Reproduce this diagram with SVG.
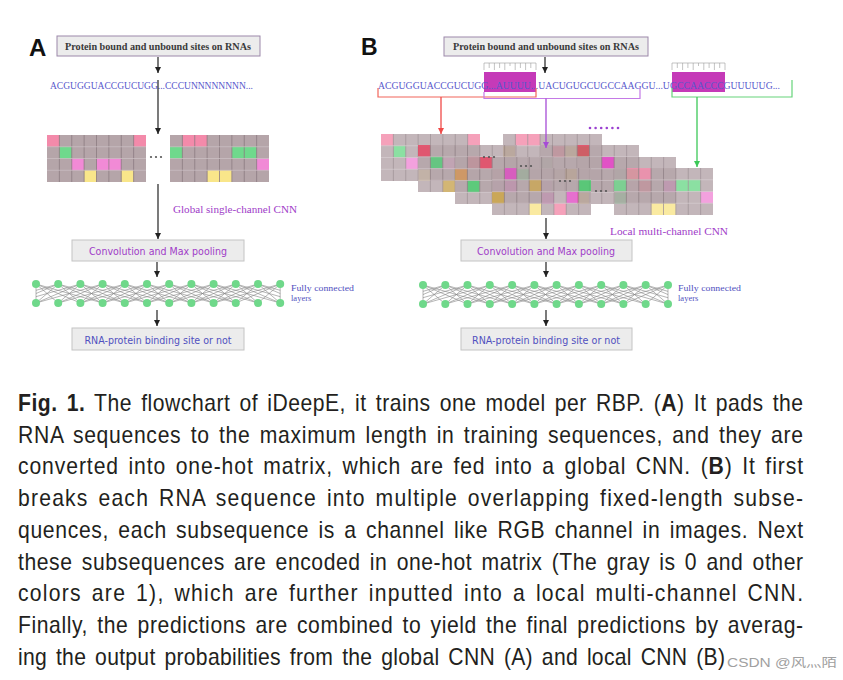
<svg xmlns="http://www.w3.org/2000/svg" xmlns:xlink="http://www.w3.org/1999/xlink" width="843" height="680" viewBox="0 0 843 680">
<style>
.bx{fill:#ececec;stroke:#c4c4c4;stroke-width:1}
.bxp{fill:#ececec;stroke:#9c88aa;stroke-width:1}
.serif{font-family:"Liberation Serif","DejaVu Serif",serif}
.sans{font-family:"DejaVu Sans","Liberation Sans",sans-serif}
.seq{fill:#5858cc;font-size:10px}
.purp{fill:#a03cc8}
.blu{fill:#5050c0}
.base{fill:#b5a5a9}
.vl{stroke:#8c7b81;stroke-width:0.8;fill:none}
.hl{stroke:#cdc2c5;stroke-width:0.7;fill:none}
.pk{fill:#f38aaa}.gr{fill:#6fd98c}.mg{fill:#f18ad6}.ye{fill:#f9e68a}
.rd{fill:#e8405e}.mb{fill:#e04cc4}.ol{fill:#c9a452}.gb{fill:#44cf6c}
.node{fill:#6fd88a}
.fc{stroke:#707070;stroke-width:0.6;fill:none;opacity:0.85}
.cap{font-family:"Liberation Sans",Arial,sans-serif;font-size:23px;fill:#231f20;word-spacing:3px}
.cn{stroke:#222;stroke-width:1.2;fill:none}
.dot{fill:#555}
.tick{stroke:#9a9a9a;stroke-width:0.6;fill:none}
.bg{opacity:0.8}
</style>
<defs>
<marker id="ak" viewBox="0 0 10 10" refX="10" refY="5" markerWidth="6" markerHeight="7" markerUnits="userSpaceOnUse" orient="auto"><path d="M0 0L10 5L0 10z" fill="#222"/></marker>
<marker id="ar" viewBox="0 0 10 10" refX="10" refY="5" markerWidth="6" markerHeight="7" markerUnits="userSpaceOnUse" orient="auto"><path d="M0 0L10 5L0 10z" fill="#f04a48"/></marker>
<marker id="ap" viewBox="0 0 10 10" refX="10" refY="5" markerWidth="6" markerHeight="7" markerUnits="userSpaceOnUse" orient="auto"><path d="M0 0L10 5L0 10z" fill="#a64cd6"/></marker>
<marker id="ag" viewBox="0 0 10 10" refX="10" refY="5" markerWidth="6" markerHeight="7" markerUnits="userSpaceOnUse" orient="auto"><path d="M0 0L10 5L0 10z" fill="#3cc858"/></marker>
<g id="gl">
<path class="vl" d="M12.375 0V47M24.75 0V47M37.125 0V47M49.5 0V47M61.875 0V47M74.25 0V47M86.625 0V47"/>
<path class="hl" d="M0 11.75H99M0 23.5H99M0 35.25H99"/>
</g>
<path id="fan" d="M0 0L22.2 19M0 0L-22.2 19M0 0L44.4 19M0 0L-44.4 19M0 0L66.6 19M0 0L-66.6 19"/>
<clipPath id="cA"><rect x="36" y="280" width="244.2" height="28"/></clipPath>
<clipPath id="cB"><rect x="423" y="280" width="245" height="28"/></clipPath>
</defs>
<rect width="843" height="680" fill="#fff"/>

<!-- Panel labels -->
<text x="29" y="56" font-family="Liberation Sans,Arial,sans-serif" font-weight="bold" font-size="24" fill="#111">A</text>
<text x="361" y="55" font-family="Liberation Sans,Arial,sans-serif" font-weight="bold" font-size="23" fill="#111">B</text>

<!-- ===== Panel A ===== -->
<g id="a-input">
<rect class="bxp" x="57" y="36" width="203" height="20"/>
<text class="serif" x="158" y="50" text-anchor="middle" font-size="10" font-weight="bold" fill="#3a3a3a" textLength="186" lengthAdjust="spacingAndGlyphs">Protein bound and unbound sites on RNAs</text>
</g>
<g id="a-seq">
<text class="serif seq" x="50" y="89" textLength="203" lengthAdjust="spacingAndGlyphs">ACGUGGUACCGUCUGG...CCCUNNNNNNNN...</text>
</g>
<g id="a-grid1" transform="translate(47,135)">
<rect class="base" width="99" height="47"/>
<rect class="pk" x="0" y="0" width="12.375" height="11.75"/>
<rect class="pk" x="86.625" y="0" width="12.375" height="11.75"/>
<rect class="gr" x="12.375" y="11.75" width="12.375" height="11.75"/>
<rect class="mg" x="24.75" y="23.5" width="12.375" height="11.75"/>
<rect class="mg" x="49.5" y="23.5" width="24.75" height="11.75"/>
<rect class="ye" x="37.125" y="35.25" width="12.375" height="11.75"/>
<rect class="ye" x="74.25" y="35.25" width="12.375" height="11.75"/>
<use href="#gl"/>
</g>
<g id="a-dots">
<circle class="dot" cx="151" cy="157" r="1.1"/><circle class="dot" cx="156" cy="157" r="1.1"/><circle class="dot" cx="161" cy="157" r="1.1"/>
</g>
<g id="a-grid2" transform="translate(170,135)">
<rect class="base" width="99" height="47"/>
<rect class="pk" x="12.375" y="0" width="24.75" height="11.75"/>
<rect class="gr" x="0" y="11.75" width="12.375" height="11.75"/>
<rect class="gr" x="61.875" y="11.75" width="24.75" height="11.75"/>
<rect class="mg" x="86.625" y="23.5" width="12.375" height="11.75"/>
<rect class="ye" x="37.125" y="35.25" width="24.75" height="11.75"/>
<use href="#gl"/>
</g>
<g id="a-label">
<text class="serif purp" x="173" y="213" font-size="10" textLength="124" lengthAdjust="spacingAndGlyphs">Global single-channel CNN</text>
</g>
<g id="a-conv">
<rect class="bx" x="72" y="240" width="172" height="21"/>
<text class="sans purp" x="158" y="254.5" text-anchor="middle" font-size="10.5" textLength="138" lengthAdjust="spacingAndGlyphs">Convolution and Max pooling</text>
</g>
<g id="a-fc">
<g class="fc" clip-path="url(#cA)">
<use href="#fan" x="36" y="284"/><use href="#fan" x="58.2" y="284"/><use href="#fan" x="80.4" y="284"/><use href="#fan" x="102.6" y="284"/><use href="#fan" x="124.8" y="284"/><use href="#fan" x="147" y="284"/><use href="#fan" x="169.2" y="284"/><use href="#fan" x="191.4" y="284"/><use href="#fan" x="213.6" y="284"/><use href="#fan" x="235.8" y="284"/><use href="#fan" x="258" y="284"/><use href="#fan" x="280.2" y="284"/>
</g>
<path class="fc" d="M36 284V303M280.2 284V303"/>
<g>
<circle class="node" cx="36" cy="284" r="4"/><circle class="node" cx="58.2" cy="284" r="4"/><circle class="node" cx="80.4" cy="284" r="4"/><circle class="node" cx="102.6" cy="284" r="4"/><circle class="node" cx="124.8" cy="284" r="4"/><circle class="node" cx="147" cy="284" r="4"/><circle class="node" cx="169.2" cy="284" r="4"/><circle class="node" cx="191.4" cy="284" r="4"/><circle class="node" cx="213.6" cy="284" r="4"/><circle class="node" cx="235.8" cy="284" r="4"/><circle class="node" cx="258" cy="284" r="4"/><circle class="node" cx="280.2" cy="284" r="4"/>
<circle class="node" cx="36" cy="303" r="4"/><circle class="node" cx="58.2" cy="303" r="4"/><circle class="node" cx="80.4" cy="303" r="4"/><circle class="node" cx="102.6" cy="303" r="4"/><circle class="node" cx="124.8" cy="303" r="4"/><circle class="node" cx="147" cy="303" r="4"/><circle class="node" cx="169.2" cy="303" r="4"/><circle class="node" cx="191.4" cy="303" r="4"/><circle class="node" cx="213.6" cy="303" r="4"/><circle class="node" cx="235.8" cy="303" r="4"/><circle class="node" cx="258" cy="303" r="4"/><circle class="node" cx="280.2" cy="303" r="4"/>
</g>
<text class="serif blu" x="291" y="291" font-size="8.5" textLength="63" lengthAdjust="spacingAndGlyphs">Fully connected</text>
<text class="serif blu" x="291" y="301" font-size="8.5">layers</text>
</g>
<g id="a-output">
<rect class="bx" x="72" y="328" width="172" height="22"/>
<text class="sans blu" x="158" y="343.5" text-anchor="middle" font-size="10.5" textLength="147" lengthAdjust="spacingAndGlyphs">RNA-protein binding site or not</text>
</g>

<!-- ===== Panel B ===== -->
<g id="b-input">
<rect class="bxp" x="444" y="37" width="204" height="19"/>
<text class="serif" x="546" y="50" text-anchor="middle" font-size="10" font-weight="bold" fill="#3a3a3a" textLength="186" lengthAdjust="spacingAndGlyphs">Protein bound and unbound sites on RNAs</text>
</g>
<g id="b-seq">
<rect x="484" y="72" width="52" height="20" fill="#c53ab8"/>
<rect x="672" y="72" width="53" height="20" fill="#c53ab8"/>
<path class="tick" d="M484 63H536M484 63V70M489.2 63V68M494.4 63V70M499.6 63V68M504.8 63V70M510 63V66M515.2 63V70M520.4 63V68M525.6 63V70M530.8 63V68M536 63V70"/>
<path class="tick" d="M672 63H725M672 63V70M677.3 63V68M682.6 63V70M687.9 63V68M693.2 63V70M698.5 63V66M703.8 63V70M709.1 63V68M714.4 63V70M719.7 63V68M725 63V70"/>
<text class="serif seq" x="378" y="89" textLength="402" lengthAdjust="spacingAndGlyphs">ACGUGGUACCGUCUGG...AUUUU...UACUGUGCUGCCAAGGU...UGCCAACCCGUUUUUG...</text>
</g>
<g id="b-grids">
<g id="b-l1" class="bg" transform="translate(381,134)">
<rect class="base" width="99" height="47"/>
<rect class="pk" x="0" y="0" width="12.375" height="11.75"/>
<rect class="pk" x="86.625" y="0" width="12.375" height="11.75"/>
<rect class="gr" x="12.375" y="11.75" width="12.375" height="11.75"/>
<rect class="mg" x="24.75" y="23.5" width="12.375" height="11.75"/>
<rect class="mg" x="49.5" y="23.5" width="24.75" height="11.75"/>
<rect class="ye" x="37.125" y="35.25" width="12.375" height="11.75"/>
<rect class="ye" x="74.25" y="35.25" width="12.375" height="11.75"/>
<use href="#gl"/>
</g>
<g id="b-r1" class="bg" transform="translate(503,134)">
<rect class="base" width="99" height="47"/>
<rect class="pk" x="12.375" y="0" width="24.75" height="11.75"/>
<rect class="ol" x="0" y="11.75" width="12.375" height="11.75"/>
<rect class="rd" x="49.5" y="11.75" width="12.375" height="11.75"/>
<rect class="ol" x="61.875" y="11.75" width="12.375" height="11.75"/>
<rect class="gb" x="74.25" y="11.75" width="12.375" height="11.75"/>
<rect class="gb" x="37.125" y="23.5" width="12.375" height="11.75"/>
<rect class="ol" x="49.5" y="35.25" width="12.375" height="11.75"/>
<use href="#gl"/>
</g>
<g id="b-l2" class="bg" transform="translate(418,145)">
<rect class="base" width="99" height="47"/>
<rect class="rd" x="0" y="0" width="12.375" height="11.75"/>
<rect class="gb" x="12.375" y="11.75" width="12.375" height="11.75"/>
<rect class="rd" x="49.5" y="11.75" width="12.375" height="11.75"/>
<rect class="mb" x="37.125" y="23.5" width="12.375" height="11.75"/>
<rect class="rd" x="74.25" y="23.5" width="12.375" height="11.75"/>
<rect class="ol" x="24.75" y="35.25" width="12.375" height="11.75"/>
<rect class="mb" x="74.25" y="35.25" width="12.375" height="11.75"/>
<use href="#gl"/>
</g>
<g id="b-r2" class="bg" transform="translate(540,145)">
<rect class="base" width="99" height="47"/>
<rect class="rd" x="37.125" y="0" width="12.375" height="11.75"/>
<rect class="mb" x="61.875" y="11.75" width="12.375" height="11.75"/>
<rect class="ol" x="24.75" y="23.5" width="12.375" height="11.75"/>
<rect class="gb" x="74.25" y="23.5" width="12.375" height="11.75"/>
<rect class="mb" x="0" y="35.25" width="12.375" height="11.75"/>
<rect class="pk" x="86.625" y="35.25" width="12.375" height="11.75"/>
<use href="#gl"/>
</g>
<g id="b-l3" class="bg" transform="translate(455,157)">
<rect class="base" width="99" height="47"/>
<rect class="rd" x="24.75" y="0" width="12.375" height="11.75"/>
<rect class="ol" x="0" y="11.75" width="12.375" height="11.75"/>
<rect class="gb" x="61.875" y="11.75" width="12.375" height="11.75"/>
<rect class="gb" x="12.375" y="23.5" width="12.375" height="11.75"/>
<rect class="mb" x="49.5" y="23.5" width="12.375" height="11.75"/>
<rect class="ol" x="37.125" y="35.25" width="12.375" height="11.75"/>
<rect class="mb" x="86.625" y="35.25" width="12.375" height="11.75"/>
<use href="#gl"/>
</g>
<g id="b-r3" class="bg" transform="translate(577,157)">
<rect class="base" width="99" height="47"/>
<rect class="mb" x="24.75" y="0" width="12.375" height="11.75"/>
<rect class="gb" x="49.5" y="11.75" width="12.375" height="11.75"/>
<rect class="rd" x="61.875" y="23.5" width="12.375" height="11.75"/>
<rect class="mb" x="86.625" y="23.5" width="12.375" height="11.75"/>
<rect class="ol" x="0" y="35.25" width="12.375" height="11.75"/>
<rect class="gb" x="37.125" y="35.25" width="12.375" height="11.75"/>
<use href="#gl"/>
</g>
<g id="b-l4" class="bg" transform="translate(492,168)">
<rect class="base" width="99" height="47"/>
<rect class="mb" x="12.375" y="0" width="12.375" height="11.75"/>
<rect class="ol" x="37.125" y="11.75" width="12.375" height="11.75"/>
<rect class="gb" x="86.625" y="11.75" width="12.375" height="11.75"/>
<rect class="ol" x="0" y="23.5" width="12.375" height="11.75"/>
<rect class="mb" x="74.25" y="23.5" width="12.375" height="11.75"/>
<rect class="ye" x="37.125" y="35.25" width="12.375" height="11.75"/>
<rect class="pk" x="61.875" y="35.25" width="12.375" height="11.75"/>
<use href="#gl"/>
</g>
<g id="b-r4" class="bg" transform="translate(614,168)">
<rect class="base" width="99" height="47"/>
<rect class="pk" x="12.375" y="0" width="24.75" height="11.75"/>
<rect class="gr" x="0" y="11.75" width="12.375" height="11.75"/>
<rect class="gr" x="61.875" y="11.75" width="24.75" height="11.75"/>
<rect class="mg" x="86.625" y="23.5" width="12.375" height="11.75"/>
<rect class="ye" x="37.125" y="35.25" width="24.75" height="11.75"/>
<use href="#gl"/>
</g>
</g>
<g id="b-dots">
<circle class="dot" cx="484" cy="157" r="1.1"/><circle class="dot" cx="489" cy="157" r="1.1"/><circle class="dot" cx="494" cy="157" r="1.1"/>
<circle class="dot" cx="521" cy="166" r="1.1"/><circle class="dot" cx="526" cy="166" r="1.1"/><circle class="dot" cx="531" cy="166" r="1.1"/>
<circle class="dot" cx="560" cy="181" r="1.1"/><circle class="dot" cx="565" cy="181" r="1.1"/><circle class="dot" cx="570" cy="181" r="1.1"/>
<circle class="dot" cx="596" cy="191" r="1.1"/><circle class="dot" cx="601" cy="191" r="1.1"/><circle class="dot" cx="606" cy="191" r="1.1"/>
<g fill="#9a40d0"><circle cx="590" cy="128" r="1.3"/><circle cx="595.6" cy="128" r="1.3"/><circle cx="601.2" cy="128" r="1.3"/><circle cx="606.8" cy="128" r="1.3"/><circle cx="612.4" cy="128" r="1.3"/><circle cx="618" cy="128" r="1.3"/></g>
</g>
<g id="b-label">
<text class="serif purp" x="610" y="235" font-size="10" textLength="118" lengthAdjust="spacingAndGlyphs">Local multi-channel CNN</text>
</g>
<g id="b-conv">
<rect class="bx" x="461" y="240" width="171" height="21"/>
<text class="sans purp" x="546" y="254.5" text-anchor="middle" font-size="10.5" textLength="138" lengthAdjust="spacingAndGlyphs">Convolution and Max pooling</text>
</g>
<g id="b-fc">
<g class="fc" clip-path="url(#cB)">
<use href="#fan" x="423" y="285"/><use href="#fan" x="445.3" y="285"/><use href="#fan" x="467.5" y="285"/><use href="#fan" x="489.8" y="285"/><use href="#fan" x="512.1" y="285"/><use href="#fan" x="534.4" y="285"/><use href="#fan" x="556.6" y="285"/><use href="#fan" x="578.9" y="285"/><use href="#fan" x="601.2" y="285"/><use href="#fan" x="623.4" y="285"/><use href="#fan" x="645.7" y="285"/><use href="#fan" x="668" y="285"/>
</g>
<path class="fc" d="M423 285V304M668 285V304"/>
<g>
<circle class="node" cx="423" cy="285" r="4"/><circle class="node" cx="445.3" cy="285" r="4"/><circle class="node" cx="467.5" cy="285" r="4"/><circle class="node" cx="489.8" cy="285" r="4"/><circle class="node" cx="512.1" cy="285" r="4"/><circle class="node" cx="534.4" cy="285" r="4"/><circle class="node" cx="556.6" cy="285" r="4"/><circle class="node" cx="578.9" cy="285" r="4"/><circle class="node" cx="601.2" cy="285" r="4"/><circle class="node" cx="623.4" cy="285" r="4"/><circle class="node" cx="645.7" cy="285" r="4"/><circle class="node" cx="668" cy="285" r="4"/>
<circle class="node" cx="423" cy="304" r="4"/><circle class="node" cx="445.3" cy="304" r="4"/><circle class="node" cx="467.5" cy="304" r="4"/><circle class="node" cx="489.8" cy="304" r="4"/><circle class="node" cx="512.1" cy="304" r="4"/><circle class="node" cx="534.4" cy="304" r="4"/><circle class="node" cx="556.6" cy="304" r="4"/><circle class="node" cx="578.9" cy="304" r="4"/><circle class="node" cx="601.2" cy="304" r="4"/><circle class="node" cx="623.4" cy="304" r="4"/><circle class="node" cx="645.7" cy="304" r="4"/><circle class="node" cx="668" cy="304" r="4"/>
</g>
<text class="serif blu" x="678" y="291" font-size="8.5" textLength="63" lengthAdjust="spacingAndGlyphs">Fully connected</text>
<text class="serif blu" x="678" y="301" font-size="8.5">layers</text>
</g>
<g id="b-output">
<rect class="bx" x="461" y="328" width="171" height="22"/>
<text class="sans blu" x="546" y="343.5" text-anchor="middle" font-size="10.5" textLength="148" lengthAdjust="spacingAndGlyphs">RNA-protein binding site or not</text>
</g>

<!-- ===== Connectors ===== -->
<g id="connectors">
<path class="cn" d="M158 57V73" marker-end="url(#ak)"/>
<path class="cn" d="M158 80V134" marker-end="url(#ak)"/>
<path class="cn" d="M158 184V239" marker-end="url(#ak)"/>
<path class="cn" d="M157 262V277" marker-end="url(#ak)"/>
<path class="cn" d="M157 310V326" marker-end="url(#ak)"/>
<path class="cn" d="M545 57V73" marker-end="url(#ak)"/>
<path d="M378 88V97H536V88" fill="none" stroke="#f2655a" stroke-width="1.2"/>
<path d="M441 97V134" fill="none" stroke="#f04a48" stroke-width="1.3" marker-end="url(#ar)"/>
<path d="M484 92V98.5H640V88" fill="none" stroke="#c47ae6" stroke-width="1.2"/>
<path d="M546 98.5V148" fill="none" stroke="#a64cd6" stroke-width="1.3" marker-end="url(#ap)"/>
<path d="M672 88V97H792V80" fill="none" stroke="#66d47a" stroke-width="1.2"/>
<path d="M697 97V167" fill="none" stroke="#3cc858" stroke-width="1.3" marker-end="url(#ag)"/>
<path class="cn" d="M546 218V239" marker-end="url(#ak)"/>
<path class="cn" d="M546 262V277" marker-end="url(#ak)"/>
<path class="cn" d="M546 310V326" marker-end="url(#ak)"/>
</g>

<!-- ===== Caption ===== -->
<g id="caption" class="cap" transform="translate(18,0) scale(0.92,1)">
<text x="0" y="411" textLength="853.3" lengthAdjust="spacing"><tspan font-weight="bold">Fig. 1.</tspan> The flowchart of iDeepE, it trains one model per RBP. (<tspan font-weight="bold">A</tspan>) It pads the</text>
<text x="0" y="443" textLength="853.3" lengthAdjust="spacing">RNA sequences to the maximum length in training sequences, and they are</text>
<text x="0" y="474" textLength="853.3" lengthAdjust="spacing">converted into one-hot matrix, which are fed into a global CNN. (<tspan font-weight="bold">B</tspan>) It first</text>
<text x="0" y="506" textLength="853.3" lengthAdjust="spacing">breaks each RNA sequence into multiple overlapping fixed-length subse-</text>
<text x="0" y="538" textLength="853.3" lengthAdjust="spacing">quences, each subsequence is a channel like RGB channel in images. Next</text>
<text x="0" y="570" textLength="853.3" lengthAdjust="spacing">these subsequences are encoded in one-hot matrix (The gray is 0 and other</text>
<text x="0" y="601" textLength="853.3" lengthAdjust="spacing">colors are 1), which are further inputted into a local multi-channel CNN.</text>
<text x="0" y="633" textLength="853.3" lengthAdjust="spacing">Finally, the predictions are combined to yield the final predictions by averag-</text>
<text x="0" y="665" textLength="768.5" lengthAdjust="spacing">ing the output probabilities from the global CNN (A) and local CNN (B)</text>
</g>
<text x="727" y="667" font-family="Liberation Sans,'Noto Sans CJK SC',sans-serif" font-size="12.5" fill="#a0a0a0" textLength="110" lengthAdjust="spacingAndGlyphs">CSDN @风灬陌</text>
</svg>
